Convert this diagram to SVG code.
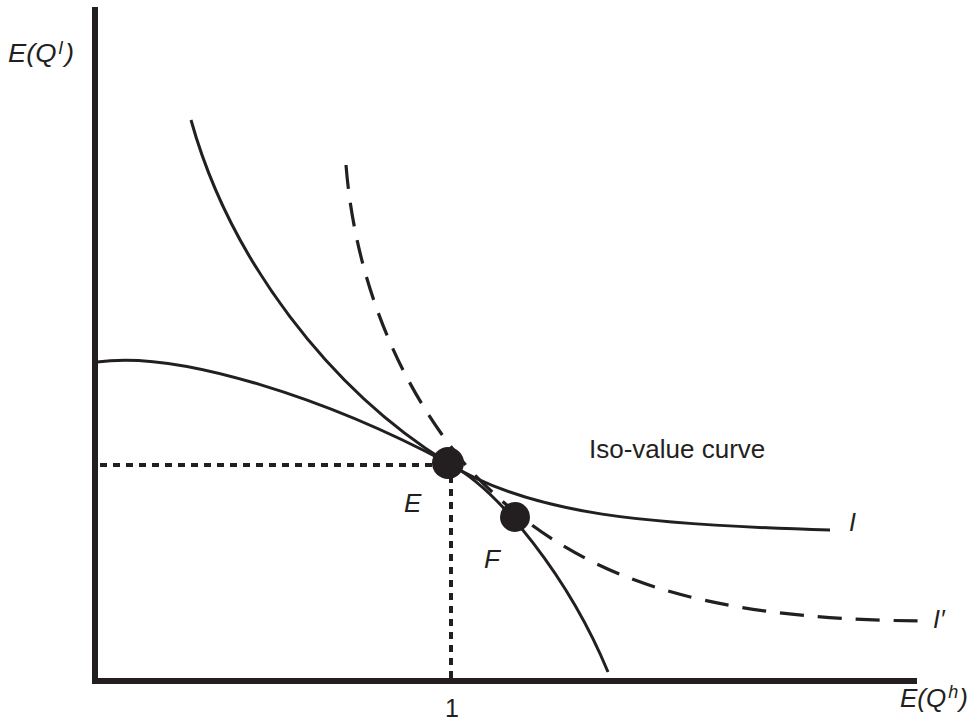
<svg xmlns="http://www.w3.org/2000/svg" width="978" height="721" viewBox="0 0 978 721">
<style>
.axis{stroke:#231f20;stroke-width:6;fill:none}
.curve{stroke:#231f20;stroke-width:3;fill:none}
.dash{stroke:#231f20;stroke-width:3.2;fill:none;stroke-dasharray:24 14}
.dot{stroke:#231f20;stroke-width:4;fill:none;stroke-dasharray:7 6}
.pt{fill:#231f20}
text{font-family:"Liberation Sans",Arial,sans-serif;fill:#231f20}
.it{font-style:italic}
</style>
<rect width="978" height="721" fill="#fff"/>
<g id="axes">
<line class="axis" x1="95" y1="7" x2="95" y2="684"/>
<line class="axis" x1="92" y1="681" x2="917" y2="681"/>
</g>
<g id="connectors">
<path class="dot" d="M100,465 H436"/>
<path class="dot" d="M451,476 V679"/>
<path id="curve-I" class="curve" d="M191,120 C230,260 330,390 448,463 C530,515 650,525 830,530"/>
<path id="curve-iso" class="curve" d="M97,362 C180,350 330,400 448,463 C500,490 570,580 608,672"/>
<path id="curve-Iprime" class="dash" d="M346,165 C355,280 400,390 470,470 C570,575 690,620 930,621"/>
</g>
<g id="node-E">
<circle class="pt" cx="448" cy="463" r="16"/>
<text class="it" x="404" y="512" font-size="26">E</text>
</g>
<g id="node-F">
<circle class="pt" cx="515" cy="517" r="15"/>
<text class="it" x="484" y="568" font-size="26">F</text>
</g>
<g id="labels">
<g transform="translate(8,62) scale(1.05,1)"><text class="it" font-size="26">E(Q<tspan font-size="18" dx="2" dy="-8">l</tspan><tspan font-size="26" dx="2" dy="8">)</tspan></text></g>
<g transform="translate(900,707)"><text class="it" font-size="26">E(Q<tspan font-size="18" dx="2" dy="-9">h</tspan><tspan font-size="26" dx="1" dy="9">)</tspan></text></g>
<text x="452" y="717" font-size="25" text-anchor="middle">1</text>
<text x="589" y="458" font-size="26">Iso-value curve</text>
<text class="it" x="849" y="531" font-size="25">I</text>
<text class="it" x="933" y="628" font-size="25">I′</text>
</g>
</svg>
